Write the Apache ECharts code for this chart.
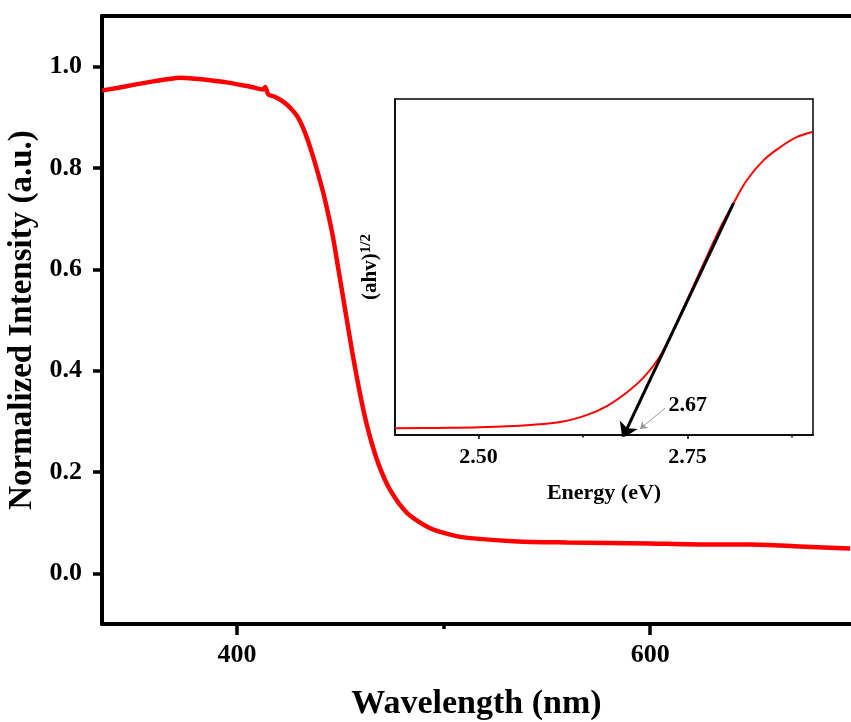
<!DOCTYPE html>
<html>
<head>
<meta charset="utf-8">
<script src="https://cdn.jsdelivr.net/npm/echarts@6/dist/echarts.min.js"></script>
<style>html,body{margin:0;padding:0;background:#fff}#c{width:851px;height:722px}</style>
</head>
<body>
<div id="c"></div>
<script>
// Main spectrum: wavelength (nm) and normalized intensity
const wavelength = [334.8, 342, 349.8, 359.5, 366, 372.6, 380, 387.1, 395, 401.6, 407, 412.7, 413.7, 415.2, 418, 422.4, 426, 429.2, 431.6, 434.0, 436.9, 439.4, 441.8, 446.1, 449.0, 452.4, 455.8, 459.7, 463.5, 468.4, 474.2, 482.4, 493.5, 504.7, 514.4, 535.6, 559.8, 580, 600.0, 624.2, 648.4, 672.6, 696.8];
const intensity  = [0.953, 0.958, 0.964, 0.971, 0.975, 0.978, 0.976, 0.973, 0.969, 0.964, 0.960, 0.955, 0.960, 0.945, 0.941, 0.931, 0.918, 0.902, 0.883, 0.858, 0.822, 0.787, 0.751, 0.672, 0.603, 0.520, 0.437, 0.352, 0.283, 0.217, 0.164, 0.119, 0.089, 0.075, 0.069, 0.063, 0.061, 0.060, 0.059, 0.057, 0.057, 0.053, 0.049];
const xMajor = [400, 600];
const xMinor = [500];
const yMajor = [0.0, 0.2, 0.4, 0.6, 0.8, 1.0];
const yMinor = [0.1, 0.3, 0.5, 0.7, 0.9];

// Inset Tauc plot: energy (eV) and (ahv)^1/2 (arbitrary units)
const energy = [2.400, 2.450, 2.502, 2.562, 2.601, 2.630, 2.654, 2.678, 2.697, 2.714, 2.729, 2.750, 2.769, 2.789, 2.805, 2.821, 2.841, 2.861, 2.881, 2.899];
const tauc   = [0.020, 0.021, 0.023, 0.030, 0.040, 0.060, 0.087, 0.128, 0.170, 0.223, 0.292, 0.405, 0.509, 0.616, 0.690, 0.759, 0.818, 0.857, 0.887, 0.902];
const insetMajor = [2.50, 2.75];
const insetMinor = [2.625, 2.875];
const tangentLine = [[2.805, 0.690], [2.672, -0.010]];
const pointerLine = [[2.723, 0.080], [2.693, 0.018]];
const bandGap = {value: [2.727, 0.089], text: '2.67'};

const FONT = "'Liberation Serif','Times New Roman',serif";
const chart = echarts.init(document.getElementById('c'), null, {renderer: 'canvas'});

const mainX = [334.7, 697.2];
const mainY = [-0.1, 1.1];
const zip = (a, b) => a.map((v, i) => [v, b[i]]);

chart.setOption({
  backgroundColor: '#fff',
  animation: false,
  grid: [
    {left: 102, right: 0, top: 16, bottom: 98, outerBoundsMode: 'none', containLabel: false},
    {left: 395, right: 38, top: 99, bottom: 287, outerBoundsMode: 'none', containLabel: false,
     show: true, borderColor: '#000', borderWidth: 1.5, backgroundColor: 'transparent'}
  ],
  xAxis: [
    {type: 'value', gridIndex: 0, position: 'bottom', min: mainX[0], max: mainX[1],
     axisLine: {show: true, onZero: false, lineStyle: {color: '#000', width: 4}},
     axisTick: {show: true, customValues: xMajor, length: 11, lineStyle: {color: '#000', width: 3.5}},
     axisLabel: {show: true, customValues: xMajor, margin: 18, color: '#000', fontSize: 26, fontWeight: 'bold', fontFamily: FONT},
     splitLine: {show: false},
     name: 'Wavelength (nm)', nameLocation: 'middle', nameGap: 63,
     nameTextStyle: {color: '#000', fontSize: 34, fontWeight: 'bold', fontFamily: FONT}},
    {type: 'value', gridIndex: 0, position: 'bottom', min: mainX[0], max: mainX[1],
     axisLine: {show: false, onZero: false},
     axisTick: {show: true, customValues: xMinor, length: 5, lineStyle: {color: '#000', width: 3.5}},
     axisLabel: {show: false}, splitLine: {show: false}},
    {type: 'value', gridIndex: 0, position: 'top', min: mainX[0], max: mainX[1],
     axisLine: {show: true, onZero: false, lineStyle: {color: '#000', width: 4}},
     axisTick: {show: false}, axisLabel: {show: false}, splitLine: {show: false}},
    {type: 'value', gridIndex: 1, position: 'bottom', min: 2.4, max: 2.9,
     axisLine: {show: true, onZero: false, lineStyle: {color: '#000', width: 1.5}},
     axisTick: {show: true, customValues: insetMajor, length: 4, lineStyle: {color: '#000', width: 1.5}},
     axisLabel: {show: true, customValues: insetMajor, margin: 11, color: '#000', fontSize: 22, fontWeight: 'bold', fontFamily: FONT,
                 formatter: v => Number(v).toFixed(2)},
     splitLine: {show: false},
     name: 'Energy (eV)', nameLocation: 'middle', nameGap: 47,
     nameTextStyle: {color: '#000', fontSize: 22, fontWeight: 'bold', fontFamily: FONT}},
    {type: 'value', gridIndex: 1, position: 'bottom', min: 2.4, max: 2.9,
     axisLine: {show: false, onZero: false},
     axisTick: {show: true, customValues: insetMinor, length: 2.5, lineStyle: {color: '#000', width: 1.5}},
     axisLabel: {show: false}, splitLine: {show: false}}
  ],
  yAxis: [
    {type: 'value', gridIndex: 0, min: mainY[0], max: mainY[1],
     axisLine: {show: true, onZero: false, lineStyle: {color: '#000', width: 4}},
     axisTick: {show: true, customValues: yMajor, length: 9, lineStyle: {color: '#000', width: 3.5}},
     axisLabel: {show: true, customValues: yMajor, margin: 20, color: '#000', fontSize: 26, fontWeight: 'bold', fontFamily: FONT,
                 formatter: v => Number(v).toFixed(1)},
     splitLine: {show: false},
     name: 'Normalized Intensity (a.u.)', nameLocation: 'middle', nameGap: 56,
     nameTextStyle: {color: '#000', fontSize: 33, fontWeight: 'bold', fontFamily: FONT}},
    {type: 'value', gridIndex: 0, min: mainY[0], max: mainY[1],
     axisLine: {show: false, onZero: false},
     axisTick: {show: true, customValues: yMinor, length: 4, lineStyle: {color: '#000', width: 3.5}},
     axisLabel: {show: false}, splitLine: {show: false}},
    {type: 'value', gridIndex: 1, min: 0, max: 1,
     axisLine: {show: true, onZero: false, lineStyle: {color: '#000', width: 1.5}},
     axisTick: {show: false}, axisLabel: {show: false}, splitLine: {show: false},
     name: '{a|(ahv)}{s|1/2}', nameLocation: 'middle', nameGap: 12,
     nameTextStyle: {color: '#000', fontFamily: FONT,
       rich: {
         a: {fontSize: 21, fontWeight: 'bold', fontFamily: FONT, color: '#000', lineHeight: 24},
         s: {fontSize: 15, fontWeight: 'bold', fontFamily: FONT, color: '#000', verticalAlign: 'top', lineHeight: 15, padding: [0, 0, 14, 0]}
       }}}
  ],
  series: [
    {type: 'line', xAxisIndex: 0, yAxisIndex: 0, data: zip(wavelength, intensity),
     showSymbol: false, smooth: 0.25,
     lineStyle: {color: '#ff0000', width: 4.5}},
    {type: 'line', xAxisIndex: 3, yAxisIndex: 2, data: zip(energy, tauc),
     showSymbol: false, smooth: 0.4,
     lineStyle: {color: '#ff0000', width: 2}},
    {type: 'lines', coordinateSystem: 'cartesian2d', xAxisIndex: 3, yAxisIndex: 2, z: 5,
     symbol: ['none', 'arrow'], symbolSize: [0, 15],
     lineStyle: {color: '#000', width: 3, opacity: 1},
     data: [{coords: tangentLine}]},
    {type: 'lines', coordinateSystem: 'cartesian2d', xAxisIndex: 3, yAxisIndex: 2, z: 5,
     symbol: ['none', 'arrow'], symbolSize: [0, 7],
     lineStyle: {color: '#999', width: 1, opacity: 1},
     data: [{coords: pointerLine}]},
    {type: 'scatter', xAxisIndex: 3, yAxisIndex: 2, symbolSize: 0.01, z: 6,
     data: [{value: bandGap.value, name: bandGap.text}],
     label: {show: true, position: 'right', distance: 0, formatter: p => p.name,
             color: '#000', opacity: 1, fontSize: 22, fontWeight: 'bold', fontFamily: FONT}}
  ]
});
</script>
</body>
</html>
